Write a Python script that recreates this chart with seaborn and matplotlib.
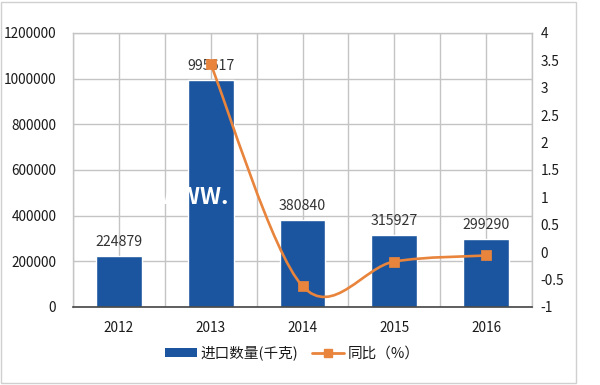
import numpy as np
import pandas as pd
import matplotlib
matplotlib.use("Agg")
import matplotlib.pyplot as plt
import seaborn as sns
from matplotlib.path import Path
from matplotlib.patches import PathPatch, Rectangle, Patch
from matplotlib.lines import Line2D

# 数据
years = ["2012", "2013", "2014", "2015", "2016"]
qty = [224879, 995617, 380840, 315927, 299290]
yoy_years = ["2013", "2014", "2015", "2016"]
yoy = [3.43, -0.62, -0.17, -0.06]

bar_color = "#1B559F"
line_color = "#E8843C"
grid_color = "#C4C4C4"
text_color = "#333333"

sns.set_theme(style="white")
plt.rcParams["font.family"] = ["Noto Sans CJK SC", "DejaVu Sans"]
plt.rcParams["axes.unicode_minus"] = False

fig = plt.figure(figsize=(6, 3.85), dpi=100)
ax = fig.add_axes([0.1217, 0.2026, 0.765, 0.7117])

df = pd.DataFrame({"year": years, "qty": qty})
sns.barplot(data=df, x="year", y="qty", color=bar_color, width=0.5,
            saturation=1, ax=ax, zorder=2)

ax.set_xlim(-0.5, 4.5)
ax.set_ylim(0, 1200000)
ax.set_yticks(np.arange(0, 1200001, 200000))
ax.set_yticklabels([str(v) for v in range(0, 1200001, 200000)])
ax.set_xticks(range(len(years)))
ax.set_xticks(np.arange(-0.5, 4.6, 1), minor=True)
ax.grid(True, which="both", color=grid_color, linewidth=1)
ax.set_axisbelow(True)
ax.set_xlabel("")
ax.set_ylabel("")
ax.tick_params(axis="both", which="both", length=0, labelsize=9.8,
               labelcolor="#1a1a1a")
ax.tick_params(axis="y", pad=12)
ax.tick_params(axis="x", pad=10)
for side in ["top", "right", "left"]:
    ax.spines[side].set_color(grid_color)
    ax.spines[side].set_linewidth(1)
ax.spines["bottom"].set_color("#444444")
ax.spines["bottom"].set_linewidth(1.2)

# 柱子标签
for i, v in enumerate(qty):
    ax.text(i, v + 30000, str(v), ha="center", va="bottom",
            fontsize=10.2, color=text_color, zorder=6)

# 水印
ax.text(0.43, 478000, "WWW.", color="white", fontsize=16.5, fontweight="bold",
        ha="left", va="center", zorder=5)

# 同比 (右轴, 平滑曲线)
ax2 = ax.twinx()
ax2.set_ylim(-1, 4)
ticks2 = np.arange(-1, 4.01, 0.5)
ax2.set_yticks(ticks2)
ax2.set_yticklabels([f"{t:g}" for t in ticks2])
ax2.tick_params(axis="y", length=0, labelsize=9.8, labelcolor="#1a1a1a", pad=6)
for side in ax2.spines:
    ax2.spines[side].set_visible(False)
ax2.grid(False)

xs = np.array([years.index(y) for y in yoy_years], dtype=float)
ys = np.array(yoy)
verts = [(xs[0], ys[0])]
codes = [Path.MOVETO]
n = len(xs)
for i in range(n - 1):
    p_prev = i - 1 if i > 0 else i
    p_next = i + 2 if i + 2 < n else i + 1
    c1 = (xs[i] + (xs[i + 1] - xs[p_prev]) / 6, ys[i] + (ys[i + 1] - ys[p_prev]) / 6)
    c2 = (xs[i + 1] - (xs[p_next] - xs[i]) / 6, ys[i + 1] - (ys[p_next] - ys[i]) / 6)
    verts += [c1, c2, (xs[i + 1], ys[i + 1])]
    codes += [Path.CURVE4] * 3
ax2.add_patch(PathPatch(Path(verts, codes), facecolor="none",
                        edgecolor=line_color, linewidth=1.9, zorder=3))
sns.scatterplot(x=xs, y=ys, marker="s", s=45, color=line_color,
                edgecolor=line_color, ax=ax2, zorder=4)
ax2.set_xlim(-0.5, 4.5)

# 图例
handles = [Patch(facecolor=bar_color, edgecolor="none"),
           Line2D([0], [0], color=line_color, linewidth=2, marker="s",
                  markersize=6)]
fig.legend(handles, ["进口数量(千克)", "同比（%）"], loc="center",
           bbox_to_anchor=(0.487, 0.083), ncol=2, frameon=False,
           fontsize=10.5, handlelength=2.2, handleheight=0.6,
           columnspacing=1.0, handletextpad=0.2, labelcolor="#1a1a1a")

# 外框
fig.patches.append(Rectangle((0.002, 0.004), 0.958, 0.992,
                             transform=fig.transFigure, fill=False,
                             edgecolor="#D0D0D0", linewidth=1))

fig.savefig("out.png", dpi=100)
